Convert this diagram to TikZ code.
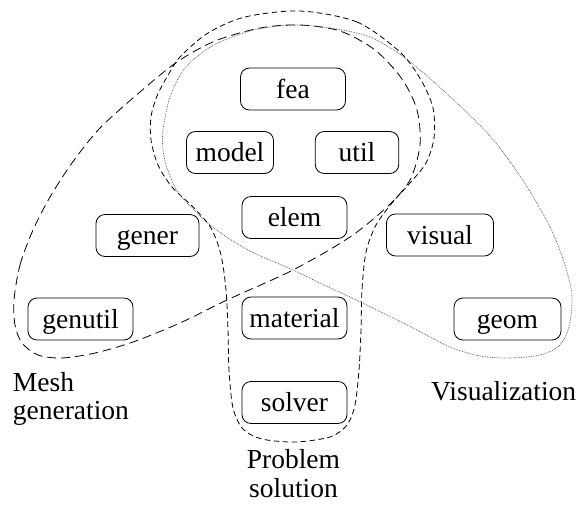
\documentclass[tikz,border=0pt]{standalone}
\usepackage{fontspec}
\setmainfont{Liberation Serif}
\begin{document}
\begin{tikzpicture}[x=1pt,y=-1pt,
  box/.style={draw, line width=0.8pt, rounded corners=9pt, minimum width=105pt, minimum height=42pt, inner sep=0pt, text height=19pt, text depth=1pt, font=\fontsize{27.5}{27.5}\selectfont},
  lbl/.style={inner sep=0pt, font=\fontsize{27.5}{27.5}\selectfont},
  meshline/.style={line width=0.8pt, dash pattern=on 9pt off 5pt},
  probline/.style={line width=0.8pt, dash pattern=on 5.5pt off 3.5pt},
  visline/.style={line width=0.7pt, dash pattern=on 0.7pt off 1pt, black!70}]
\useasboundingbox (0,0) rectangle (579,504);

\node[box] (fea) at (293,89) {fea};
\node[box, minimum width=87pt] (model) at (230,152.5) {model};
\node[box, minimum width=83.5pt] (util) at (357,152.5) {util};
\node[box] (elem) at (294.5,217.5) {elem};
\node[box, minimum width=103pt] (gener) at (147.5,235.5) {gener};
\node[box, minimum width=107pt] (visual) at (440,235) {visual};
\node[box] (genutil) at (80.5,319) {genutil};
\node[box] (material) at (294.5,318) {material};
\node[box, minimum width=107pt] (geom) at (507.5,319) {geom};
\node[box] (solver) at (294.5,402.5) {solver};

\node[lbl, anchor=base west] (mesh1) at (12.7,391.5) {Mesh};
\node[lbl, anchor=base west] (mesh2) at (12.7,419) {generation};
\node[lbl, anchor=base] (prob1) at (293.5,468) {Problem};
\node[lbl, anchor=base] (prob2) at (293.5,497) {solution};
\node[lbl, anchor=base west] (vis) at (431,400) {Visualization};

% Mesh generation group
\draw[meshline] plot[smooth cycle] coordinates {
 (14,300) (20,265) (33,230) (50,197) (72,163) (100,128) (140,92) (177,62)
 (215,41) (260,28) (300,25) (340,31) (375,50) (402,79) (417,110) (420,145)
 (410,180) (388,206) (350,237) (293,270) (227,300) (180,323) (133,342)
 (95,353) (62,358) (38,355) (22,343) (15,325)};

% Problem solution group
\draw[probline] plot[smooth cycle] coordinates {
 (300,11) (357,22) (400,52) (421,80) (433,108) (434,138) (426,163) (410,183)
 (392,203) (376,225) (366,252) (362,290) (361,330) (359,370) (355,405)
 (347,425) (330,437) (295,442) (262,439) (243,429) (233,408) (229,370)
 (228,330) (226,290) (221,255) (211,228) (193,207) (172,187) (158,165)
 (151,140) (151,117) (157,96) (167,77) (180,57) (208,33) (245,17)};

% Visualization group
\draw[visline] plot[smooth cycle] coordinates {
 (163,130) (170,97) (185,68) (212,46) (250,31) (290,25) (330,28) (370,37)
 (405,58) (445,92) (490,136) (524,182) (550,227) (564,262) (572,295)
 (569,327) (559,346) (540,355) (510,358) (480,356) (450,347) (417,330)
 (383,313) (350,297) (320,283) (293,270) (250,251) (215,229) (192,208)
 (177,191) (167,168) (163,150)};
\end{tikzpicture}
\end{document}
